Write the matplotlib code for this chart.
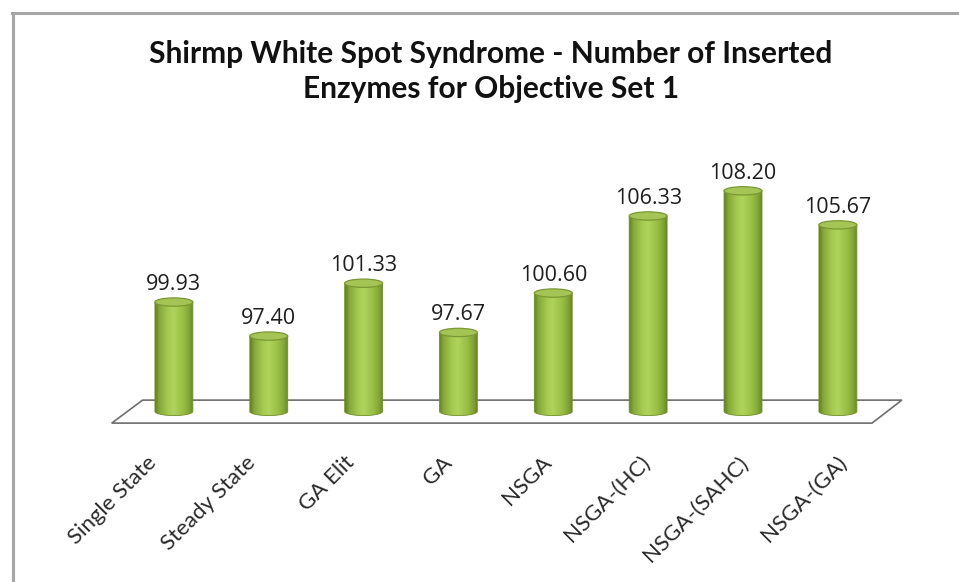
import numpy as np
import matplotlib
matplotlib.use("Agg")
import matplotlib.pyplot as plt
from matplotlib.patches import Ellipse, Polygon, PathPatch
from matplotlib.path import Path
from matplotlib.colors import LinearSegmentedColormap
from matplotlib.lines import Line2D

# results per algorithm
methods = ["Single State", "Steady State", "GA Elit", "GA", "NSGA",
           "NSGA-(HC)", "NSGA-(SAHC)", "NSGA-(GA)"]
enzymes = [99.93, 97.40, 101.33, 97.67, 100.60, 106.33, 108.20, 105.67]

title = "Shirmp White Spot Syndrome - Number of Inserted\nEnzymes for Objective Set 1"

base = 91.8        # floor level the cylinders stand on
bar_w = 0.40       # cylinder width (category units)
cap_h = 0.62       # height of the elliptical caps (value units)

fig = plt.figure(figsize=(9.59, 5.82), dpi=100)
fig.patch.set_facecolor("white")

# chart frame (only top and left edges show)
fig.add_artist(Line2D([12/959, 1.0], [1 - 12.5/582, 1 - 12.5/582],
                      color="#a6a6a6", lw=2.2))
fig.add_artist(Line2D([12.5/959, 12.5/959], [0.0, 1 - 12.5/582],
                      color="#a6a6a6", lw=2.2))

ax = fig.add_axes([0.0824, 0.2053, 0.8902, 0.5546])
ax.set_xlim(-1, 8)
ax.set_ylim(88, 112)
ax.axis("off")

# 3d floor
floor = Polygon([(-0.33, 92.64), (7.675, 92.64), (7.36, 90.93), (-0.655, 90.93)],
                closed=True, facecolor="white", edgecolor="#6e6e6e", lw=1.2, zorder=1)
ax.add_patch(floor)

cmap = LinearSegmentedColormap.from_list(
    "cyl", [(0.0, "#60801f"), (0.12, "#86a93a"), (0.35, "#a6cb51"),
            (0.5, "#afd35c"), (0.75, "#98be45"), (0.9, "#82a536"), (1.0, "#67872a")])
grad = np.linspace(0, 1, 256).reshape(1, -1)

for i, v in enumerate(enzymes):
    x0, x1 = i - bar_w / 2, i + bar_w / 2
    # body outline: straight sides plus rounded bottom
    t = np.linspace(np.pi, 2 * np.pi, 40)
    arc = np.column_stack([i + bar_w / 2 * np.cos(t), base + cap_h / 2 * np.sin(t)])
    verts = np.vstack([[x0, v], [x0, base], arc, [x1, base], [x1, v], [x0, v]])
    body = PathPatch(Path(verts), facecolor="none", edgecolor="#6f8f2a", lw=0.6, zorder=3)
    ax.add_patch(body)
    im = ax.imshow(grad, cmap=cmap, extent=[x0, x1, base - cap_h, v],
                   aspect="auto", zorder=2.5, interpolation="bilinear")
    im.set_clip_path(body)
    cap = Ellipse((i, v), bar_w, cap_h, facecolor="#a4c456",
                  edgecolor="#7a9833", lw=0.9, zorder=4)
    ax.add_patch(cap)
    ax.text(i, v + 0.9, f"{v:.2f}", ha="center", va="baseline",
            fontsize=15.5, family="Open Sans", color="#1e1e1e", zorder=5)

ax.set_xlim(-1, 8)
ax.set_ylim(88, 112)

# category labels along the front edge of the floor
for i, name in enumerate(methods):
    lx = i - 0.15 + (i - 3.5) * 0.04
    ax.text(lx, 88.75, name, rotation=45, rotation_mode="anchor",
            ha="right", va="top", fontsize=16, family="Lato",
            color="#2a2a2a", clip_on=False)

fig.text(491/959, 1 - 98/582, title, ha="center", va="baseline",
         fontsize=21.5, fontweight="bold", family="Lato", color="#111111",
         linespacing=1.3)

fig.savefig("out.png", dpi=100, facecolor="white")
